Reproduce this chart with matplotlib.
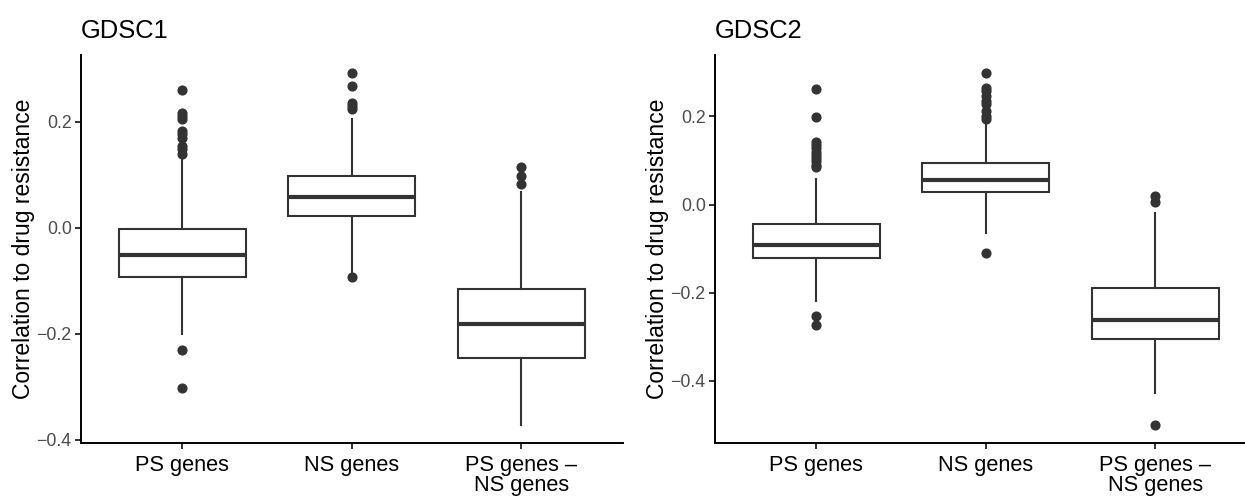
import matplotlib
matplotlib.use("Agg")
import matplotlib.pyplot as plt

plt.rcParams['font.family'] = ['Liberation Sans', 'DejaVu Sans']

categories = ["PS genes", "NS genes", "PS genes –\nNS genes"]
titles = ["GDSC1", "GDSC2"]
ylabel = "Correlation to drug resistance"

# GDSC1 box statistics
g1_q1 = [-0.0935, 0.023, -0.246]
g1_med = [-0.051, 0.0576, -0.181]
g1_q3 = [-0.002, 0.098, -0.115]
g1_whislo = [-0.200, -0.086, -0.372]
g1_whishi = [0.133, 0.205, 0.067]
g1_fliers = [
    [0.261, 0.2175, 0.211, 0.205, 0.183, 0.177, 0.170, 0.155, 0.148, 0.139, -0.231, -0.302],
    [0.293, 0.268, 0.236, 0.230, 0.224, -0.093],
    [0.114, 0.098, 0.083],
]

# GDSC2 box statistics
g2_q1 = [-0.121, 0.029, -0.305]
g2_med = [-0.091, 0.056, -0.262]
g2_q3 = [-0.045, 0.094, -0.189]
g2_whislo = [-0.219, -0.065, -0.428]
g2_whishi = [0.058, 0.183, -0.019]
g2_fliers = [
    [0.263, 0.199, 0.141, 0.135, 0.128, 0.120, 0.113, 0.105, 0.098, 0.090, 0.084, -0.253, -0.272],
    [0.299, 0.265, 0.258, 0.247, 0.235, 0.228, 0.213, 0.201, 0.194, -0.110],
    [0.020, 0.005, -0.500],
]

yticks = [-0.4, -0.2, 0.0, 0.2]

panels = [
    (g1_q1, g1_med, g1_q3, g1_whislo, g1_whishi, g1_fliers),
    (g2_q1, g2_med, g2_q3, g2_whislo, g2_whishi, g2_fliers),
]

W, H = 1245, 498
fig = plt.figure(figsize=(W / 100, H / 100), dpi=100)
ax_lefts = [80.7, 714.7]
ax_w = 542.0
ax_top, ax_bot = 55.0, 442.7

edge = "#333333"
for i, (q1, med, q3, wlo, whi, fl) in enumerate(panels):
    ax = fig.add_axes([ax_lefts[i] / W, (H - ax_bot) / H, ax_w / W, (ax_bot - ax_top) / H])
    stats = []
    for j in range(len(categories)):
        stats.append(dict(q1=q1[j], med=med[j], q3=q3[j], whislo=wlo[j], whishi=whi[j],
                          fliers=fl[j], label=categories[j]))
    ax.bxp(stats, positions=[1, 2, 3], widths=0.75, showcaps=False, patch_artist=True,
           boxprops=dict(facecolor="white", edgecolor=edge, linewidth=1.5),
           medianprops=dict(color=edge, linewidth=3.0, solid_capstyle="butt"),
           whiskerprops=dict(color=edge, linewidth=1.5),
           flierprops=dict(marker="o", markerfacecolor=edge, markeredgecolor=edge,
                           markersize=6.3, linestyle="none"))
    allv = wlo + whi + [v for f in fl for v in f]
    lo, hi = min(allv), max(allv)
    pad = 0.05 * (hi - lo)
    ax.set_ylim(lo - pad, hi + pad)
    ax.set_xlim(0.4, 3.6)
    ax.set_yticks(yticks)
    ax.set_yticklabels(["\u22120.4", "\u22120.2", "0.0", "0.2"])
    for s in ["top", "right"]:
        ax.spines[s].set_visible(False)
    for s in ["left", "bottom"]:
        ax.spines[s].set_linewidth(1.4)
        ax.spines[s].set_color("black")
    ax.tick_params(axis="both", length=4.5, width=1.4, color=edge)
    ax.tick_params(axis="y", labelsize=12.8, labelcolor="#4D4D4D", pad=2)
    ax.tick_params(axis="x", labelsize=15.7, labelcolor="black", pad=4)
    for lab in ax.get_xticklabels():
        lab.set_linespacing(0.95)
    ax.set_ylabel(ylabel, fontsize=16.5, labelpad=1)
    ax.set_title(titles[i], loc="left", fontsize=18.4, pad=12)

fig.savefig("out.png", dpi=100)
